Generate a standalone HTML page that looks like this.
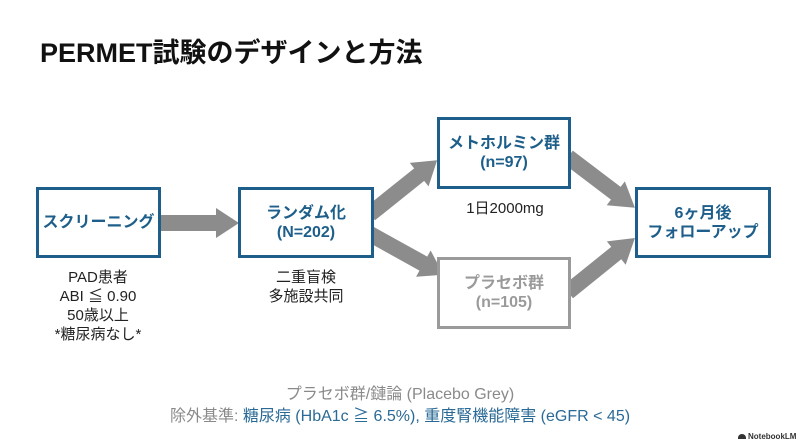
<!DOCTYPE html>
<html><head><meta charset="utf-8">
<style>
html,body{margin:0;padding:0;background:#fff;}
body{width:800px;height:447px;position:relative;overflow:hidden;font-family:"Liberation Sans","Noto Sans CJK JP",sans-serif;}
.t{position:absolute;white-space:nowrap;}
.box{position:absolute;box-sizing:border-box;border:3px solid #1d5f8a;background:#fff;display:flex;align-items:center;justify-content:center;flex-direction:column;color:#1d5f8a;font-weight:bold;font-size:16px;line-height:19px;text-align:center;}
.gray{border-color:#9a9a9a;color:#9a9a9a;}
.note{position:absolute;text-align:center;font-size:15px;line-height:19px;color:#222;transform:translateX(-50%);white-space:nowrap;}
</style></head><body>
<div class="t" style="left:40px;top:38px;font-size:27px;line-height:30px;font-weight:bold;color:#111;">PERMET試験のデザインと方法</div>

<svg style="position:absolute;left:0;top:0" width="800" height="447">
<g fill="#8c8c8c">
<polygon points="158,215 216,215 216,208 239,223 216,238 216,231 158,231"/>
<g transform="translate(370,214) rotate(-38.7)"><polygon points="0,-8 63,-8 63,-15 86,0 63,15 63,8 0,8"/></g>
<g transform="translate(370,234) rotate(29)"><polygon points="0,-8 61,-8 61,-15 84,0 61,15 61,8 0,8"/></g>
<g transform="translate(568,157) rotate(37.2)"><polygon points="0,-8 60,-8 60,-15 84,0 60,15 60,8 0,8"/></g>
<g transform="translate(568,292) rotate(-38.9)"><polygon points="0,-8 62,-8 62,-15 86,0 62,15 62,8 0,8"/></g>
</g>
</svg>

<div class="box" style="left:36px;top:187px;width:125px;height:71px;">スクリーニング</div>
<div class="box" style="left:238px;top:187px;width:136px;height:71px;"><div>ランダム化</div><div>(N=202)</div></div>
<div class="box" style="left:437px;top:117px;width:134px;height:72px;"><div>メトホルミン群</div><div>(n=97)</div></div>
<div class="box gray" style="left:437px;top:257px;width:134px;height:72px;"><div>プラセボ群</div><div>(n=105)</div></div>
<div class="box" style="left:635px;top:187px;width:136px;height:71px;"><div>6ヶ月後</div><div>フォローアップ</div></div>

<div class="note" style="left:98px;top:268px;">PAD患者<br>ABI ≦ 0.90<br>50歳以上<br>*糖尿病なし*</div>
<div class="note" style="left:306px;top:268px;">二重盲検<br>多施設共同</div>
<div class="note" style="left:505px;top:199px;">1日2000mg</div>

<div class="note" style="left:400px;top:384px;font-size:16px;line-height:22px;color:#8a8a8a;">プラセボ群/鏈論 (Placebo Grey)</div>
<div class="note" style="left:400px;top:406px;font-size:16px;line-height:22px;color:#8a8a8a;">除外基準: <span style="color:#2a6a96;">糖尿病 (HbA1c ≧ 6.5%), 重度腎機能障害 (eGFR &lt; 45)</span></div>

<div class="t" style="left:738px;top:432px;font-size:8px;line-height:10px;color:#333;font-weight:bold;">
<span style="display:inline-block;width:8px;height:5px;border-radius:4px 4px 0 0;background:#333;margin-right:2px;vertical-align:0px;"></span>NotebookLM</div>
</body></html>
